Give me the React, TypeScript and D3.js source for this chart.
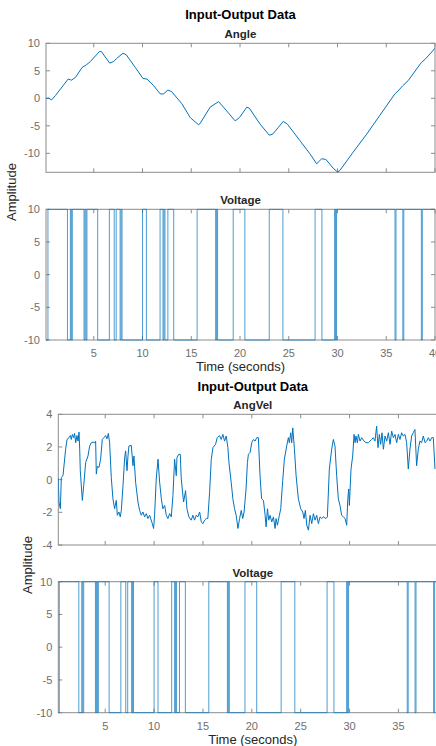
import React, { useEffect, useRef } from "react";
import * as d3 from "d3";

const figTitle = "Input-Output Data";
const yAxisLabel = "Amplitude";
const xAxisLabel = "Time (seconds)";

const angleTicks = [-10, -5, 0, 5, 10];
const voltageTicks = [-10, -5, 0, 5, 10];
const angVelTicks = [-4, -2, 0, 2, 4];
const timeTicks = [5, 10, 15, 20, 25, 30, 35, 40];

// [time, value] pairs
const angle: [number, number][] = [
  [0.1, 0], [0.4, 0], [0.67, -0.3], [1.07, 0.5], [1.59, 1.7], [2.37, 3.5], [2.71, 3.3],
  [3.12, 3.8], [3.8, 5.6], [4.25, 6.1], [4.66, 6.7], [5.58, 8.5], [5.78, 8.5], [6.63, 6.4],
  [7.04, 6.7], [7.32, 7.2], [8.0, 8.2], [8.34, 7.9], [9.26, 5.6], [10.05, 3.6], [10.46, 3.5],
  [11.14, 2.3], [11.82, 0.8], [12.16, 0.8], [12.6, 1.5], [13.0, 1.2], [14.04, -1.0],
  [14.89, -3.5], [15.74, -4.8], [15.9, -4.6], [16.94, -1.6], [17.8, -0.6], [18.3, -1.6],
  [19.5, -4.1], [19.94, -3.5], [20.7, -1.6], [20.96, -1.8], [22.06, -4.7], [23.0, -6.7],
  [23.36, -6.5], [23.93, -5.3], [24.44, -4.2], [24.86, -4.7], [26.15, -7.7], [27.18, -10.1],
  [27.86, -11.9], [28.37, -11.0], [28.8, -11.1], [29.56, -12.7], [30.0, -13.4], [30.25, -13.1],
  [31.6, -9.8], [33.0, -6.5], [34.34, -3.1], [35.88, 0.8], [36.2, 1.3], [36.7, 2.3],
  [37.24, 3.2], [38.6, 6.5], [39.05, 7.2], [40, 9.1],
];

const angVel: [number, number][] = [
  [0.2, 0.1], [0.27, -1.37], [0.41, -1.78], [0.51, 0.14], [0.68, 0.24], [0.95, 1.86],
  [1.09, 2.46], [1.3, 2.57], [1.43, 2.7], [1.53, 2.46], [1.64, 2.77], [1.77, 2.57],
  [1.87, 2.83], [1.98, 2.26], [2.11, 2.7], [2.22, 2.36], [2.32, 2.91], [2.39, 1.86],
  [2.45, 0.55], [2.66, -1.27], [2.8, -0.36], [3.0, 1.05], [3.24, 1.45], [3.41, 2.06],
  [3.58, 2.26], [3.75, 2.3], [3.92, 2.26], [4.02, 2.36], [4.09, 0.34], [4.19, 0.81],
  [4.36, 0.75], [4.53, 1.25], [4.7, 2.46], [4.87, 2.57], [5.04, 2.7], [5.18, 2.5],
  [5.32, 2.83], [5.45, 2.26], [5.62, 0.14], [5.79, -1.17], [5.96, -1.78], [6.13, -1.27],
  [6.24, -2.18], [6.4, -1.98], [6.54, -2.28], [6.65, -1.88], [6.82, -0.36], [6.99, 1.35],
  [7.09, 1.76], [7.23, 0.55], [7.33, 1.45], [7.43, 2.06], [7.67, 2.1], [7.84, 0.85],
  [7.94, 1.45], [8.11, -0.16], [8.35, -1.37], [8.52, -1.88], [8.69, -2.18], [8.86, -1.98],
  [9.03, -2.28], [9.2, -2.08], [9.37, -2.38], [9.54, -2.18], [9.82, -2.69], [9.95, -2.99],
  [10.05, -2.18], [10.22, 0.04], [10.4, 1.25], [10.57, -0.16], [10.74, -1.17], [10.9, -1.78],
  [11.08, -1.58], [11.25, -2.18], [11.42, -2.38], [11.59, -2.08], [11.76, -2.28],
  [11.93, -0.97], [12.1, 1.25], [12.27, 0.24], [12.34, 1.35], [12.51, 1.55], [12.68, 1.55],
  [12.78, 0.04], [13.02, -1.37], [13.22, -0.67], [13.36, -1.78], [13.56, -2.28], [13.8, -2.48],
  [13.97, -2.18], [14.14, -2.48], [14.31, -2.18], [14.48, -2.28], [14.66, -1.98],
  [14.83, -2.59], [15.0, -2.69], [15.17, -2.48], [15.34, -2.38], [15.5, -2.38], [15.68, -0.77],
  [15.85, 1.25], [16.02, 1.96], [16.29, 2.16], [16.46, 2.57], [16.7, 2.7], [16.87, 2.46],
  [17.04, 2.77], [17.21, 2.36], [17.38, 2.67], [17.55, 1.96], [17.66, 1.05], [17.89, -0.16],
  [18.06, -1.17], [18.23, -1.78], [18.4, -2.18], [18.58, -2.99], [18.75, -2.38],
  [18.92, -1.88], [19.07, -2.38], [19.21, -1.98], [19.41, -0.57], [19.55, 1.05], [19.65, 1.55],
  [19.82, 1.66], [19.99, 2.26], [20.16, 2.46], [20.33, 2.36], [20.5, 2.57], [20.67, 2.57],
  [20.84, 0.24], [21.0, -1.17], [21.19, -1.27], [21.36, -2.18], [21.46, -2.89], [21.6, -1.78],
  [21.73, -2.48], [21.87, -2.18], [22.04, -2.59], [22.21, -2.28], [22.38, -2.99],
  [22.48, -2.38], [22.62, -2.79], [22.82, -2.18], [22.96, -1.78], [23.16, -0.06], [23.33, 1.25],
  [23.57, 2.06], [23.74, 2.57], [23.84, 2.26], [23.98, 2.87], [24.08, 2.26], [24.19, 3.17],
  [24.36, 1.86], [24.53, 0.24], [24.76, -1.17], [25.0, -1.78], [25.21, -1.98], [25.34, -2.38],
  [25.48, -1.88], [25.62, -2.79], [25.79, -3.09], [25.96, -2.18], [26.13, -2.69],
  [26.3, -2.08], [26.47, -2.48], [26.64, -2.18], [26.81, -2.69], [26.98, -2.28],
  [27.15, -2.38], [27.32, -2.28], [27.59, -2.38], [27.73, -2.28], [27.93, 0.65], [28.17, 1.86],
  [28.34, 2.46], [28.51, 2.06], [28.68, 0.24], [28.85, -1.17], [29.02, -1.58], [29.19, -2.18],
  [29.37, -2.28], [29.54, -2.38], [29.71, -2.79], [29.81, -1.27], [29.91, -0.57],
  [29.98, -1.58], [30.15, 0.65], [30.32, 1.45], [30.46, 2.77], [30.56, 2.26], [30.66, 2.67],
  [30.8, 2.26], [30.9, 2.77], [31.07, 2.36], [31.24, 2.57], [31.48, 2.36], [31.68, 2.26],
  [31.92, 2.26], [32.09, 2.36], [32.26, 2.46], [32.43, 2.57], [32.6, 2.36], [32.77, 3.27],
  [32.91, 1.96], [33.05, 2.77], [33.18, 2.16], [33.32, 2.87], [33.46, 1.86], [33.63, 2.67],
  [33.8, 2.36], [33.97, 2.87], [34.14, 2.16], [34.31, 2.97], [34.48, 2.57], [34.65, 2.77],
  [34.82, 2.26], [34.99, 2.77], [35.16, 2.46], [35.33, 2.87], [35.5, 2.67], [35.67, 2.77],
  [35.84, 2.26], [36.01, 0.65], [36.18, 1.86], [36.35, 2.67], [36.52, 2.87], [36.69, 3.07],
  [36.86, 0.85], [37.03, 1.86], [37.2, 2.36], [37.37, 2.26], [37.55, 2.67], [37.72, 2.26],
  [37.89, 2.36], [38.06, 2.57], [38.23, 2.36], [38.4, 2.57], [38.57, 2.57], [38.74, 0.65],
];

// switching instants: value holds from this time until the next one
const voltage: [number, number][] = [
  [0.1, -10], [0.3, 10], [2.3, -10], [2.6, 10], [2.7, -10], [2.8, 10], [4.0, -10], [4.1, 10],
  [4.2, -10], [4.3, 10], [5.4, -10], [6.6, 10], [7.1, -10], [7.3, 10], [7.7, -10], [7.8, 10],
  [7.9, -10], [10.0, 10], [10.4, -10], [11.8, 10], [12.1, -10], [12.2, 10], [12.3, -10],
  [12.6, 10], [13.2, -10], [15.6, 10], [17.5, -10], [17.6, 10], [17.7, -10], [19.3, 10],
  [20.5, -10], [23.0, 10], [24.4, -10], [27.7, 10], [28.4, -10], [29.7, 10], [29.8, -10],
  [29.9, 10], [35.9, -10], [36.0, 10], [36.7, -10], [36.8, 10], [38.6, -10], [38.7, 10],
  [40, 10],
];

const W = 436;
const H = 746;
const FONT = "'Liberation Sans', Arial, sans-serif";
const AXIS = "#8c8c8c";
const TICKTXT = "#6e6e6e";
const LINE = "#0072bd";

let clipCount = 0;

function drawPanel(svg, o) {
  const x = d3.scaleLinear().domain(o.xDomain).range([o.left, o.right]);
  const y = d3.scaleLinear().domain(o.yDomain).range([o.bottom, o.top]);
  const g = svg.append("g");

  g.append("rect")
    .attr("x", o.left).attr("y", o.top)
    .attr("width", o.right - o.left).attr("height", o.bottom - o.top)
    .attr("fill", "#fff").attr("stroke", AXIS).attr("stroke-width", 1);

  const tl = 4;
  o.xTicks.forEach((t) => {
    const px = x(t);
    g.append("line").attr("x1", px).attr("x2", px).attr("y1", o.bottom).attr("y2", o.bottom - tl).attr("stroke", AXIS);
    g.append("line").attr("x1", px).attr("x2", px).attr("y1", o.top).attr("y2", o.top + tl).attr("stroke", AXIS);
    // labels whose centre falls past the page edge are not visible anyway
    if (o.xLabels && px <= W) {
      g.append("text").attr("x", px).attr("y", o.bottom + 17)
        .attr("text-anchor", "middle").attr("font-size", 11).attr("fill", TICKTXT)
        .attr("font-family", FONT).text(t);
    }
  });
  o.yTicks.forEach((v) => {
    const py = y(v);
    g.append("line").attr("x1", o.left).attr("x2", o.left + tl).attr("y1", py).attr("y2", py).attr("stroke", AXIS);
    g.append("line").attr("x1", o.right).attr("x2", o.right - tl).attr("y1", py).attr("y2", py).attr("stroke", AXIS);
    g.append("text").attr("x", o.left - 6).attr("y", py + 4)
      .attr("text-anchor", "end").attr("font-size", 11).attr("fill", TICKTXT)
      .attr("font-family", FONT).text(v);
  });

  const id = "clip" + clipCount++;
  svg.append("clipPath").attr("id", id).append("rect")
    .attr("x", o.left).attr("y", o.top - 1)
    .attr("width", o.right - o.left).attr("height", o.bottom - o.top + 2);

  const line = d3.line().x((d) => x(d[0])).y((d) => y(d[1]));
  if (o.step) line.curve(d3.curveStepAfter);
  g.append("path").datum(o.data)
    .attr("clip-path", `url(#${id})`)
    .attr("d", line)
    .attr("fill", "none")
    .attr("stroke", LINE)
    .attr("stroke-width", o.step ? 0.7 : 1)
    .attr("stroke-linejoin", "round");

  g.append("text").attr("x", (o.left + o.right) / 2).attr("y", o.top - 5)
    .attr("text-anchor", "middle").attr("font-size", 11.5).attr("font-weight", "bold")
    .attr("fill", "#262626").attr("font-family", FONT).text(o.title);
}

function drawFigure(svg, f) {
  const mid = (f.left + f.right) / 2;
  svg.append("text").attr("x", mid).attr("y", f.titleY)
    .attr("text-anchor", "middle").attr("font-size", 13).attr("font-weight", "bold")
    .attr("fill", "#000").attr("font-family", FONT).text(figTitle);

  drawPanel(svg, {
    left: f.left, right: f.right, top: f.top1, bottom: f.bottom1,
    xDomain: f.xDomain, yDomain: f.yDomain1, xTicks: timeTicks, yTicks: f.yTicks1,
    xLabels: false, data: f.data1, step: false, title: f.title1,
  });
  drawPanel(svg, {
    left: f.left, right: f.right, top: f.top2, bottom: f.bottom2,
    xDomain: f.xDomain, yDomain: [-10, 10], xTicks: timeTicks, yTicks: voltageTicks,
    xLabels: true, data: voltage, step: true, title: "Voltage",
  });

  svg.append("text").attr("x", mid).attr("y", f.bottom2 + 31)
    .attr("text-anchor", "middle").attr("font-size", 13)
    .attr("fill", "#262626").attr("font-family", FONT).text(xAxisLabel);

  svg.append("text")
    .attr("transform", `translate(${f.ylabX},${f.ylabY}) rotate(-90)`)
    .attr("text-anchor", "middle").attr("dy", "0.35em").attr("font-size", 13)
    .attr("fill", "#262626").attr("font-family", FONT).text(yAxisLabel);
}

export default function App() {
  const ref = useRef(null);

  useEffect(() => {
    const svg = d3.select(ref.current);
    svg.selectAll("*").remove();
    clipCount = 0;

    drawFigure(svg, {
      left: 46, right: 435, xDomain: [0.1, 40], titleY: 19,
      top1: 43.3, bottom1: 172.3, yDomain1: [-13.45, 10], yTicks1: angleTicks,
      data1: angle, title1: "Angle",
      top2: 209.3, bottom2: 340,
      ylabX: 11, ylabY: 192,
    });

    drawFigure(svg, {
      left: 58.3, right: 447.3, xDomain: [0.2, 40], titleY: 391,
      top1: 414.3, bottom1: 545, yDomain1: [-4, 4], yTicks1: angVelTicks,
      data1: angVel, title1: "AngVel",
      top2: 581.7, bottom2: 712.7,
      ylabX: 27, ylabY: 565,
    });
  }, []);

  return (
    <div style={{ position: "absolute", left: 0, top: 0 }}>
      <svg ref={ref} width={W} height={H} style={{ display: "block", background: "#fff" }} />
    </div>
  );
}
